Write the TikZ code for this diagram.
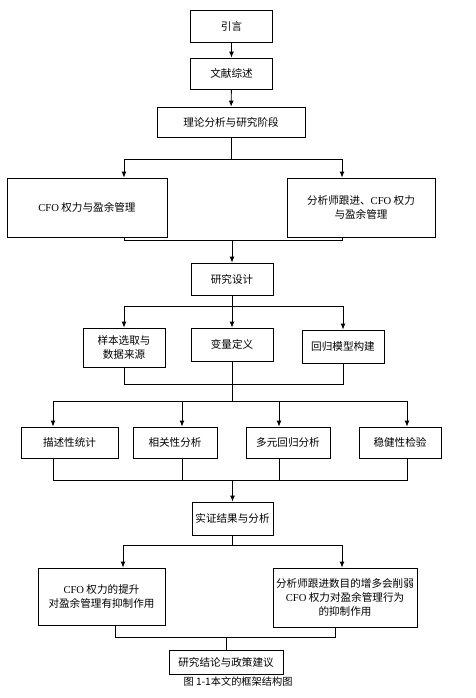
\documentclass[tikz,border=0pt]{standalone}
\usepackage{fontspec}
\setmainfont{Noto Sans CJK SC}
\newfontfamily\latinfont{Liberation Serif}
\usepackage{tikz}
\usetikzlibrary{arrows.meta}
\newcommand{\widthstage}{82pt}
\newcommand{\heightstage}{32pt}
\tikzset{
    common/.style={draw, rectangle, line width=0.8pt, inner sep=1pt, align=center, font=\fontsize{10.6}{14}\selectfont},
    stage/.style={common, minimum width=\widthstage, minimum height=\heightstage},
    wide/.style={common, minimum height=59pt},
    wire/.style={line width=0.9pt},
    feed/.style={wire, -{Latex[length=6pt, width=5pt]}}
}
\begin{document}
\begin{tikzpicture}[x=1pt, y=-1pt]
      \useasboundingbox (0,0) rectangle (476,698);

      \path
          (231.5,26) node[stage] (intro) {引言}
          (231.5,73.5) node[stage, minimum height=31pt] (review) {文献综述}
          (231,122) node[stage, minimum width=148pt, minimum height=30pt] (theory) {理论分析与研究阶段}
          (87,207.5) node[wide, minimum width=160pt] (cfo) {{\latinfont CFO} 权力与盈余管理}
          (361,207.5) node[wide, minimum width=148pt] (analyst) {分析师跟进、{\latinfont CFO} 权力\\与盈余管理}
          (232,279) node[stage] (design) {研究设计};

      \path
          (124,347.5) node[stage, minimum height=39pt] (sample) {样本选取与\\数据来源}
          (232,344.5) node[stage, minimum height=33pt] (var) {变量定义}
          (343,346.5) node[stage, minimum height=33pt] (model) {回归模型构建}
          (69.5,442.5) node[stage, minimum width=97pt, minimum height=31pt] (desc) {描述性统计}
          (175,442.5) node[stage, minimum width=84pt, minimum height=31pt] (corr) {相关性分析}
          (288,442.5) node[stage, minimum width=84pt, minimum height=31pt] (multi) {多元回归分析}
          (400,442.5) node[stage, minimum height=31pt] (robust) {稳健性检验};

      \path
          (232.5,518.5) node[stage, minimum width=81pt, minimum height=33pt] (result) {实证结果与分析}
          (101.5,596.5) node[common, minimum width=127pt, minimum height=57pt] (concl-a) {{\latinfont CFO} 权力的提升\\对盈余管理有抑制作用}
          (345,597.5) node[wide, minimum width=144pt] (concl-b) {分析师跟进数目的增多会削弱\\{\latinfont CFO} 权力对盈余管理行为\\的抑制作用}
          (226,662) node[common, minimum width=114pt, minimum height=24pt] (policy) {研究结论与政策建议}
          (238,682) node[font=\fontsize{10.2}{11}\selectfont] (caption) {图 1-1本文的框架结构图};

      \coordinate (fork-a-l) at (124,159);
      \coordinate (fork-a-r) at (342,159);
      \coordinate (join-a-l) at (124,240);
      \coordinate (join-a-r) at (342,240);
      \coordinate (fork-b) at (0,306);
      \coordinate (join-b) at (0,384);
      \coordinate (lane-1) at (53,401);
      \coordinate (lane-2) at (182,401);
      \coordinate (lane-3) at (279,401);
      \coordinate (lane-4) at (407,401);
      \coordinate (join-c) at (0,480);
      \coordinate (fork-d-l) at (123,545);
      \coordinate (fork-d-r) at (342,545);
      \coordinate (join-d-l) at (115,637);
      \coordinate (join-d-r) at (335,637);

      \draw[feed] (intro) -- (review);
      \draw[feed] (review) -- (theory);

      \draw[wire] (theory.south) -- (theory.south |- fork-a-l);
      \draw[wire] (fork-a-l) -- (fork-a-r);
      \draw[feed] (fork-a-l) -- (fork-a-l |- cfo.north);
      \draw[feed] (fork-a-r) -- (fork-a-r |- analyst.north);
      \draw[wire] (join-a-l |- cfo.south) -- (join-a-l) -- (join-a-r) -- (join-a-r |- analyst.south);
      \draw[feed] (design.north |- join-a-l) -- (design.north);

      \draw[wire] (design.south) -- (design.south |- fork-b);
      \draw[wire] (sample.north |- fork-b) -- (model.north |- fork-b);
      \draw[feed] (sample.north |- fork-b) -- (sample.north);
      \draw[feed] (var.north |- fork-b) -- (var.north);
      \draw[feed] (model.north |- fork-b) -- (model.north);
      \draw[wire] (sample.south) -- (sample.south |- join-b) -- (model.south |- join-b) -- (model.south);
      \draw[wire] (var.south) -- (var.south |- lane-1);

      \draw[wire] (lane-1) -- (lane-4);
      \draw[feed] (lane-1) -- (lane-1 |- desc.north);
      \draw[feed] (lane-2) -- (lane-2 |- corr.north);
      \draw[feed] (lane-3) -- (lane-3 |- multi.north);
      \draw[feed] (lane-4) -- (lane-4 |- robust.north);
      \draw[wire] (lane-1 |- desc.south) -- (lane-1 |- join-c) -- (lane-4 |- join-c) -- (lane-4 |- robust.south);
      \draw[wire] (lane-2 |- corr.south) -- (lane-2 |- join-c);
      \draw[wire] (lane-3 |- multi.south) -- (lane-3 |- join-c);
      \draw[feed] (result.north |- join-c) -- (result.north);

      \draw[wire] (result.south) -- (result.south |- fork-d-l);
      \draw[wire] (fork-d-l) -- (fork-d-r);
      \draw[feed] (fork-d-l) -- (fork-d-l |- concl-a.north);
      \draw[feed] (fork-d-r) -- (fork-d-r |- concl-b.north);
      \draw[wire] (join-d-l |- concl-a.south) -- (join-d-l) -- (join-d-r) -- (join-d-r |- concl-b.south);
      \draw[wire] (policy.north |- join-d-l) -- (policy.north);
    \end{tikzpicture}
\end{document}
